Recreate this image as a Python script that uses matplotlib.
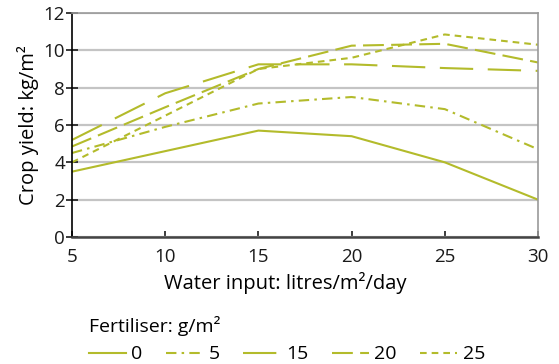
import matplotlib.pyplot as plt
from matplotlib.lines import Line2D

plt.rcParams['font.family'] = ['Open Sans', 'DejaVu Sans']

water = [5, 10, 15, 20, 25, 30]
fert_labels = ['0', '5', '15', '20', '25']
yield_0 = [3.5, 4.6, 5.7, 5.4, 4.0, 2.0]
yield_5 = [4.5, 5.9, 7.15, 7.5, 6.85, 4.7]
yield_15 = [5.2, 7.7, 9.25, 9.25, 9.05, 8.9]
yield_20 = [4.85, 6.95, 9.0, 10.25, 10.35, 9.35]
yield_25 = [4.0, 6.5, 9.0, 9.6, 10.85, 10.3]

green = '#b3bb2b'
styles = ['-', (0, (5, 2.5, 1.2, 2.5)), (0, (16, 7)), (0, (10, 3.5)), (0, (3.2, 2.4))]
series = [yield_0, yield_5, yield_15, yield_20, yield_25]

fig = plt.figure(figsize=(5.59, 3.64), dpi=100)
ax = fig.add_axes([72 / 559, 1 - 237 / 364, 466 / 559, 224 / 364])

for vals, ls in zip(series, styles):
    ax.plot(water, vals, color=green, lw=1.5, linestyle=ls, solid_capstyle='butt')

ax.set_xlim(5, 30)
ax.set_ylim(0, 12)
ax.set_xticks(water)
ax.set_yticks(range(0, 13, 2))
ax.grid(axis='y', color='#c4c4c4', lw=1.6)
ax.set_axisbelow(True)

for side in ['top', 'right']:
    ax.spines[side].set_color('#999999')
    ax.spines[side].set_linewidth(1.2)
ax.spines['left'].set_color('black')
ax.spines['left'].set_linewidth(1.2)
ax.spines['bottom'].set_color('#444444')
ax.spines['bottom'].set_linewidth(1.8)
ax.tick_params(axis='both', labelsize=13.5, colors='#1a1a1a', width=1.2)
ax.tick_params(axis='y', direction='inout', length=8, pad=1)
ax.tick_params(axis='x', direction='in', length=4, pad=8)

ax.set_xlabel('Water input: litres/m²/day', fontsize=14.5)
ax.xaxis.set_label_coords(0.457, -0.155)
ax.xaxis.label.set_va('top')
ax.set_ylabel('Crop yield: kg/m²', fontsize=14.5, labelpad=3)

handles = [Line2D([], [], color=green, lw=1.5, linestyle=ls) for ls in styles]
leg = fig.legend(handles, fert_labels, loc='upper left', bbox_to_anchor=(75 / 559, 1 - 302 / 364),
                 ncol=5, frameon=False, fontsize=14, title='Fertiliser: g/m²',
                 title_fontsize=14, handlelength=1.9, columnspacing=1.2, handletextpad=0.3,
                 borderpad=0.2)
leg._legend_box.align = 'left'

fig.savefig('out.png', dpi=100)
